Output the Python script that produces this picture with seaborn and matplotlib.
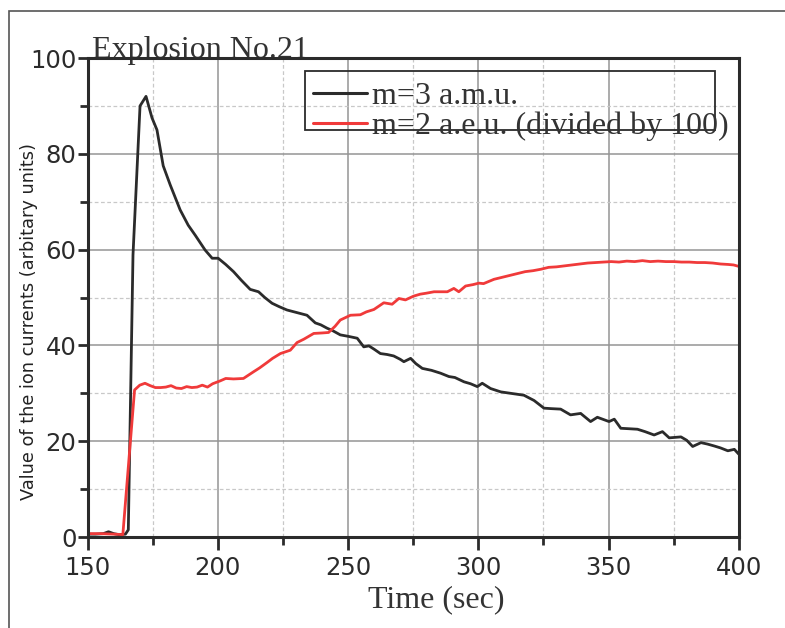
import matplotlib
matplotlib.use('Agg')
import matplotlib.pyplot as plt
from matplotlib.patches import Rectangle
from matplotlib.ticker import MultipleLocator
import pandas as pd
import seaborn as sns

# m=3 a.m.u. (black)
t_m3 = [150, 153, 156, 158, 160, 162, 164.5, 165.6, 167.4, 170.1, 172.4, 174.7, 176.6, 179,
        181.7, 185.5, 188.6, 191.3, 195.1, 197.8, 200.1, 203, 206, 209, 212.4, 215.6, 218,
        220.8, 223.5, 226.5, 230, 234.2, 237.4, 239.5, 241.9, 244, 247, 250, 253.5, 256, 258,
        260, 262.4, 265, 267.5, 270, 271.4, 274, 276, 278.5, 282, 285.5, 288.7, 291, 294.5,
        297, 299.6, 301.5, 304.7, 308.6, 312.4, 317.5, 321.4, 325.2, 328, 331.6, 335.4,
        339.3, 343.1, 345.7, 350.2, 352.2, 354.7, 358, 361.1, 364, 367.5, 370.7, 373.3,
        377.8, 380, 382.3, 385.5, 388, 390.6, 393, 395.8, 398.3, 400]
v_m3 = [0.6, 0.6, 0.7, 1.1, 0.7, 0.5, 0.6, 1.5, 58.9, 90, 92, 87.5, 85, 77.5,
        73.5, 68.3, 65.1, 63, 59.9, 58.2, 58.2, 56.9, 55.4, 53.6, 51.7, 51.2, 50.0,
        48.8, 48.1, 47.4, 46.9, 46.3, 44.7, 44.3, 43.6, 43.1, 42.2, 41.9, 41.5, 39.7, 39.9,
        39.2, 38.3, 38.1, 37.8, 37.1, 36.6, 37.3, 36.2, 35.2, 34.8, 34.2, 33.5, 33.3, 32.4,
        32.0, 31.4, 32.1, 31.0, 30.3, 30.0, 29.6, 28.5, 26.9, 26.8, 26.7, 25.5,
        25.8, 24.1, 25.0, 24.1, 24.6, 22.7, 22.6, 22.5, 22.0, 21.3, 22.0, 20.7,
        20.9, 20.2, 18.9, 19.7, 19.4, 19.0, 18.6, 18.0, 18.3, 17.3]

# m=2 a.e.u. divided by 100 (red)
t_m2 = [150, 155, 160, 163.5, 168, 170, 172, 174, 176, 178, 180, 182, 184, 186, 188, 190,
        192, 194, 196, 198, 200.9, 203, 206, 209.8, 213.7, 216, 218.8, 221, 224, 227.8,
        230.4, 233, 236.8, 240, 242.5, 245, 247, 250.9, 254.7, 257, 259.9, 263.7, 266.9,
        269.5, 272, 275.2, 277.7, 280, 283, 288.1, 290.6, 292.5, 295.1, 298, 300.2, 302,
        306, 309, 312, 315, 318, 321, 324, 327, 330, 333, 336, 339, 342, 345, 348, 351,
        354, 357, 360, 363, 366, 369, 372, 375, 378, 381, 384, 387, 390, 393, 396, 398, 400]
v_m2 = [0.7, 0.7, 0.6, 0.5, 30.7, 31.7, 32.1, 31.6, 31.2, 31.2, 31.3, 31.6, 31.1, 31.0, 31.4, 31.2,
        31.3, 31.7, 31.3, 32.0, 32.6, 33.1, 33.0, 33.1, 34.5, 35.3, 36.4, 37.3, 38.3, 39.0,
        40.6, 41.3, 42.5, 42.6, 42.7, 44.0, 45.3, 46.3, 46.4, 47.0, 47.5, 48.9, 48.6,
        49.8, 49.5, 50.3, 50.7, 50.9, 51.2, 51.2, 51.9, 51.2, 52.4, 52.7, 53.0, 52.9,
        53.8, 54.2, 54.6, 55.0, 55.4, 55.6, 55.9, 56.3, 56.4, 56.6, 56.8, 57.0, 57.2, 57.3, 57.4, 57.5,
        57.4, 57.6, 57.5, 57.7, 57.5, 57.6, 57.5, 57.5, 57.4, 57.4, 57.3, 57.3, 57.2, 57.0, 56.9, 56.8, 56.5]

labels = ['m=3 a.m.u.', 'm=2 a.e.u. (divided by 100)']

sns.set_style('white')
plt.rcParams['font.family'] = ['DejaVu Sans']

fig = plt.figure(figsize=(7.85, 6.28), dpi=100)
ax = fig.add_axes([0.1117, 0.1449, 0.8294, 0.7627])

# grid first
ax.xaxis.set_major_locator(MultipleLocator(50))
ax.xaxis.set_minor_locator(MultipleLocator(25))
ax.yaxis.set_major_locator(MultipleLocator(20))
ax.yaxis.set_minor_locator(MultipleLocator(10))
ax.grid(which='major', color='#959595', lw=1.1, ls='-')
ax.grid(which='minor', color='#c8c8c8', lw=0.9, ls=(0, (3, 2)))
ax.set_axisbelow(True)

df3 = pd.DataFrame({'t': t_m3, 'v': v_m3})
df2 = pd.DataFrame({'t': t_m2, 'v': v_m2})
sns.lineplot(data=df3, x='t', y='v', ax=ax, color='#2b2b2b', lw=2.0, estimator=None,
             label=labels[0])
sns.lineplot(data=df2, x='t', y='v', ax=ax, color='#f03a3a', lw=2.0, estimator=None,
             label=labels[1])

ax.set_xlim(150, 400)
ax.set_ylim(0, 100)

for s in ax.spines.values():
    s.set_color('#2b2b2b')
    s.set_linewidth(2.2)

ax.tick_params(which='both', bottom=True, left=True, top=False, right=False)
ax.tick_params(which='major', direction='out', length=9, width=2, color='#2b2b2b',
               labelsize=17.5, labelcolor='#2b2b2b', pad=3)
ax.tick_params(which='minor', direction='out', length=6, width=2, color='#2b2b2b')
ax.tick_params(axis='x', pad=5)
ax.tick_params(axis='y', which='major', length=7, pad=1)

ax.set_xlabel('Time (sec)', family='Liberation Serif', fontsize=23, color='#333333')
ax.xaxis.set_label_coords(0.536, -0.1)
ax.set_ylabel('Value of the ion currents (arbitary units)', fontsize=12.8, color='#222222')
ax.yaxis.set_label_coords(-0.076, 0.45)

ax.text(0.007, 1.0, 'Explosion No.21', transform=ax.transAxes, family='Liberation Serif',
        fontsize=23, color='#333333', va='baseline', ha='left', zorder=0)

leg = ax.legend(loc='upper left', bbox_to_anchor=(0.346, 0.95), frameon=False,
                prop={'family': 'Liberation Serif', 'size': 23}, handlelength=1.7,
                handletextpad=0.15, labelspacing=0.02, borderpad=0, borderaxespad=0)
for t in leg.get_texts():
    t.set_color('#333333')
for h in leg.get_lines():
    h.set_linewidth(2.2)
ax.add_patch(Rectangle((0.334, 0.850), 0.630, 0.123, transform=ax.transAxes, fill=False,
                       ec='#2b2b2b', lw=1.3, zorder=4))

# outer frame of the picture
fig.patches.append(Rectangle((9 / 785, -0.1), 1.2, 1.1 - 11 / 628, transform=fig.transFigure,
                             fill=False, ec='#555555', lw=1.2, figure=fig))

fig.savefig('out.png', dpi=100)
